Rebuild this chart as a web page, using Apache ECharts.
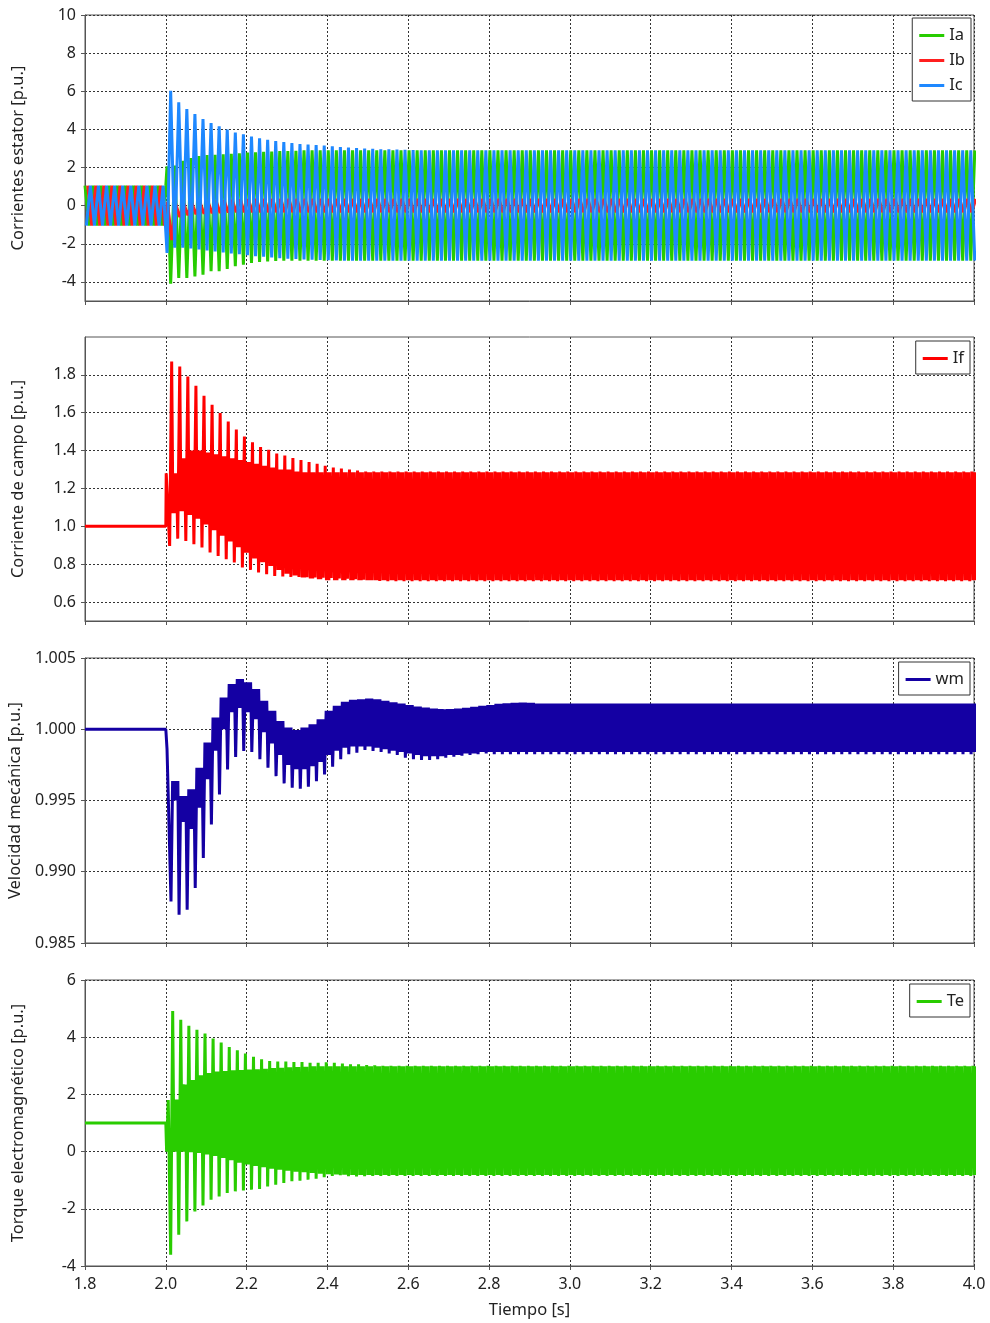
<!DOCTYPE html>
<html><head><meta charset="utf-8">
<script src="https://cdn.jsdelivr.net/npm/echarts@6/dist/echarts.min.js"></script>
<style>html,body{margin:0;padding:0;background:#fff}#c{width:990px;height:1323px}</style>
</head><body><div id="c"></div>
<script>
// ---------------- data ----------------
const xTicks = [1.8, 2.0, 2.2, 2.4, 2.6, 2.8, 3.0, 3.2, 3.4, 3.6, 3.8, 4.0];
const statorTicks = [-4, -2, 0, 2, 4, 6, 8, 10];
const fieldTicks = [0.6, 0.8, 1.0, 1.2, 1.4, 1.6, 1.8];
const speedTicks = [0.985, 0.990, 0.995, 1.000, 1.005];
const torqueTicks = [-4, -2, 0, 2, 4, 6];

const tStart = 1.8, tFault = 2.0, tEnd = 4.0;
const period = 0.02;          // 50 Hz oscillation
const postCycles = 100;       // cycles between 2.0 s and 4.0 s

// stator currents, pre-fault amplitude
const preAmp = 1.05;
// post-fault per-cycle peaks (transient), then steady value
const iaMin = [-4.09, -3.79, -3.79, -3.71, -3.62, -3.44, -3.44, -3.32, -3.18, -3.09, -3.01, -2.95, -2.92, -2.9, -2.89, -2.88];
const iaMax = [2.1, 2.35, 2.5, 2.6, 2.65, 2.67, 2.7, 2.72, 2.75, 2.78, 2.8, 2.82, 2.84, 2.86, 2.87, 2.88, 2.9];
const iaSteady = [-2.88, 2.9];
const icMax = [6.03, 5.42, 5.07, 4.81, 4.54, 4.33, 4.16, 3.99, 3.84, 3.74, 3.62, 3.53, 3.46, 3.39, 3.34, 3.29, 3.23, 3.2, 3.18, 3.15, 3.11, 3.08, 3.05, 3.02, 3.0, 2.98, 2.96, 2.95, 2.94, 2.93, 2.92];
const icMin = [-2.2, -2.2, -2.25, -2.3, -2.35, -2.4, -2.45, -2.5, -2.55, -2.6, -2.65, -2.68, -2.72, -2.75, -2.78, -2.8, -2.82, -2.84, -2.85, -2.86, -2.87];
const icSteady = [2.9, -2.88];
const ibLow = [-1.8, -0.6, -0.5, -0.45, -0.42, -0.4, -0.38, -0.36, -0.35];
const ibHigh = [0.1, 0.12, 0.15, 0.18, 0.21, 0.24, 0.27, 0.3, 0.32, 0.34, 0.35];
const ibSteady = [-0.35, 0.35];

// field current: per-cycle down spike, up spike, and the band between spikes
const ifPre = 1.0;
const ifHi = [1.87, 1.844, 1.791, 1.742, 1.689, 1.642, 1.598, 1.554, 1.511, 1.475, 1.444, 1.419, 1.405, 1.384, 1.374, 1.361, 1.35, 1.34, 1.33, 1.32, 1.31, 1.305, 1.3, 1.295, 1.29];
const ifLo = [0.896, 0.935, 0.923, 0.905, 0.888, 0.862, 0.844, 0.826, 0.809, 0.783, 0.77, 0.756, 0.747, 0.738, 0.735, 0.733, 0.732, 0.731, 0.73, 0.729, 0.727, 0.725, 0.723, 0.721, 0.718, 0.715, 0.712];
const ifMidHi = [1.28, 1.36, 1.4, 1.4, 1.39, 1.38, 1.37, 1.36, 1.35, 1.34, 1.33, 1.32, 1.31, 1.3, 1.3, 1.29];
const ifMidLo = [1.07, 1.08, 1.06, 1.04, 1.01, 0.98, 0.95, 0.92, 0.89, 0.86, 0.83, 0.81, 0.79, 0.77, 0.75, 0.74, 0.73, 0.725, 0.72];
const ifSteady = [0.71, 1.29, 0.715, 1.285];

// mechanical speed
const wmPre = 1.0;
const wmTrough = [0.98791, 0.98698, 0.98733, 0.98886, 0.99097, 0.99331, 0.99542, 0.99718, 0.99805, 0.99847, 0.9984, 0.99789, 0.9973, 0.99671, 0.9962, 0.99589, 0.99582, 0.99596, 0.99636, 0.99683, 0.99737, 0.99789, 0.99824, 0.99836, 0.99855, 0.99847, 0.9984, 0.9983, 0.9982, 0.998, 0.9979, 0.99785, 0.99784, 0.9979, 0.998, 0.99808, 0.99815, 0.9982, 0.99825, 0.9983];
const wmPeak = [0.99636, 0.99531, 0.99578, 0.9973, 0.99906, 1.00082, 1.00223, 1.00317, 1.00352, 1.00329, 1.00282, 1.00199, 1.00129, 1.00058, 1.00012, 0.99995, 1.00012, 1.00035, 1.0007, 1.00129, 1.00164, 1.00192, 1.00206, 1.00211, 1.00216, 1.0021, 1.002, 1.0019, 1.0018, 1.0017, 1.0016, 1.00153, 1.00145, 1.00141, 1.00141, 1.00145, 1.0015, 1.00158, 1.00164, 1.0017, 1.00178, 1.00183, 1.00186, 1.00188, 1.00185];
const wmMidLo = [0.995, 0.9935, 0.993, 0.9945, 0.9965, 0.9985, 1.0, 1.0012, 1.0015, 1.0012, 1.0007, 0.9998, 0.999, 0.9982, 0.9975, 0.9972, 0.9972, 0.9974, 0.9977, 0.9982, 0.9985, 0.9987, 0.9988, 0.9988, 0.9988, 0.9987, 0.9986, 0.9985, 0.9984, 0.9983, 0.9982, 0.9981, 0.9981, 0.9981, 0.9982, 0.9982, 0.9983, 0.9983, 0.9984];
const wmSteady = [0.99825, 1.0018, 0.9984];

// electromagnetic torque
const tePre = 1.0;
const teHi = [4.92, 4.61, 4.4, 4.26, 4.13, 3.95, 3.81, 3.66, 3.54, 3.43, 3.32, 3.23, 3.17, 3.15, 3.15, 3.13, 3.13, 3.11, 3.11, 3.12, 3.11, 3.08, 3.05, 3.05, 3.03, 3.02];
const teLo = [-3.61, -2.91, -2.44, -2.09, -1.88, -1.68, -1.57, -1.45, -1.39, -1.36, -1.33, -1.31, -1.22, -1.16, -1.1, -1.04, -1.02, -0.98, -0.95, -0.9, -0.85, -0.83, -0.86, -0.87, -0.86];
const teMidHi = [1.82, 2.35, 2.5, 2.67, 2.75, 2.8, 2.82, 2.84, 2.85, 2.87, 2.88, 2.9, 2.92, 2.93, 2.95, 2.96, 2.97];
const teMidLo = [0.0, 0.0, -0.02, -0.05, -0.1, -0.15, -0.22, -0.3, -0.39, -0.45, -0.5, -0.55, -0.6, -0.63, -0.67, -0.7, -0.72, -0.75, -0.77, -0.79, -0.8, -0.81, -0.82];
const teSteady = [-0.85, 3.0, -0.82, 2.98];

// ---------------- build series from the arrays ----------------
const at = (arr, k, s) => (k < arr.length ? arr[k] : s);
const r = v => Math.round(v * 100000) / 100000;

function preThreePhase(offset) {
  const d = [];
  for (let j = -2; j < 24; j++) {
    const t = tStart + offset + 0.01 * j;
    if (t < tStart || t > tFault) continue;
    d.push([r(t), j % 2 === 0 ? preAmp : -preAmp]);
  }
  return d;
}
function post2(t0, lowArr, highArr, sLow, sHigh, lowFirst) {
  const d = [];
  for (let k = 0; k < postCycles; k++) {
    const tk = t0 + period * k;
    const a = at(lowArr, k, sLow), b = at(highArr, k, sHigh);
    if (lowFirst) { d.push([r(tk), a]); d.push([r(tk + 0.01), b]); }
    else { d.push([r(tk), b]); d.push([r(tk + 0.01), a]); }
  }
  return d;
}
// spike pair (down, up) followed by the in-between band swinging twice
function post6(t0, lo, hi, mlo, mhi, st) {
  const d = [];
  for (let k = 0; k < postCycles; k++) {
    const tk = t0 + period * k;
    const ml = at(mlo, k, st[2]), mh = at(mhi, k, st[3]);
    d.push([r(tk - 0.005), at(lo, k, st[0])]);
    d.push([r(tk), at(hi, k, st[1])]);
    d.push([r(tk + 0.003), ml]);
    d.push([r(tk + 0.006), mh]);
    d.push([r(tk + 0.009), ml]);
    d.push([r(tk + 0.012), mh]);
  }
  return d;
}
function postSpeed(t0) {
  const d = [];
  for (let k = 0; k < postCycles; k++) {
    const tk = t0 + period * k;
    const pk = at(wmPeak, k, wmSteady[1]);
    const ml = at(wmMidLo, k, wmSteady[2]);
    d.push([r(tk), at(wmTrough, k, wmSteady[0])]);
    d.push([r(tk + 0.004), pk]);
    d.push([r(tk + 0.0075), ml]);
    d.push([r(tk + 0.011), pk]);
    d.push([r(tk + 0.0145), ml]);
    d.push([r(tk + 0.017), pk]);
  }
  return d;
}

const iaData = preThreePhase(0.0).concat([[2.003, 2.06]], post2(2.012, iaMin, iaMax, iaSteady[0], iaSteady[1], true));
const ibData = preThreePhase(0.00667).concat([[2.004, 0.2]], post2(2.0145, ibLow, ibHigh, ibSteady[0], ibSteady[1], true));
const icData = preThreePhase(0.01333).concat([[2.003, -2.48]], post2(2.012, icMin, icMax, icSteady[1], icSteady[0], false));
const ifData = [[tStart, ifPre], [tFault, ifPre], [2.001, 1.28]].concat(post6(2.0145, ifLo, ifHi, ifMidLo, ifMidHi, ifSteady));
const wmData = [[tStart, wmPre], [tFault, wmPre], [2.003, 0.9986]].concat(postSpeed(2.0128));
const teData = [[tStart, tePre], [tFault, tePre], [2.002, 0.0], [2.006, 1.8]].concat(post6(2.017, teLo, teHi, teMidLo, teMidHi, teSteady));

// ---------------- chart ----------------
const FONT = 'Noto Sans';
const txt = '#222';
const gridsPos = [{top: 15, height: 286}, {top: 337, height: 284}, {top: 658, height: 285}, {top: 980, height: 286}];
const dotted = {type: [2, 2], color: '#333', width: 1};

const chart = echarts.init(document.getElementById('c'), null, {renderer: 'canvas'});

function yAxisBase(i, name) {
  return {
    type: 'value', gridIndex: i, name: name, nameLocation: 'middle', nameGap: 58,
    nameTextStyle: {fontSize: 16.5, color: txt, fontFamily: FONT},
    axisLine: {show: true, lineStyle: {color: '#555'}},
    axisTick: {show: true, length: 4, lineStyle: {color: '#555'}},
    axisLabel: {fontSize: 16, color: txt, fontFamily: FONT, margin: 9},
    splitLine: {show: true, lineStyle: dotted}
  };
}
const y0 = yAxisBase(0, 'Corrientes estator [p.u.]');
Object.assign(y0, {min: -5, max: 10});
y0.axisLabel.customValues = statorTicks; y0.axisTick.customValues = statorTicks;
const y1 = yAxisBase(1, 'Corriente de campo [p.u.]');
Object.assign(y1, {min: 0.5, max: 2.0});
y1.axisLabel.customValues = fieldTicks; y1.axisTick.customValues = fieldTicks;
y1.axisLabel.formatter = v => v.toFixed(1);
const y2 = yAxisBase(2, 'Velocidad mecánica [p.u.]');
Object.assign(y2, {min: speedTicks[0], max: speedTicks[speedTicks.length - 1], interval: 0.005});
y2.axisLabel.formatter = v => v.toFixed(3);
const y3 = yAxisBase(3, 'Torque electromagnético [p.u.]');
Object.assign(y3, {min: torqueTicks[0], max: torqueTicks[torqueTicks.length - 1], interval: 2});

const legendBase = {
  orient: 'vertical', right: 20, backgroundColor: '#fff', borderColor: '#333', borderWidth: 1,
  padding: [9, 6, 7, 7], itemWidth: 25, itemHeight: 3, itemGap: 8, icon: 'rect', selectedMode: false,
  textStyle: {fontSize: 16.5, color: txt, fontFamily: FONT}
};

function line(name, data, color, xi, w) {
  return {name, type: 'line', data, xAxisIndex: xi, yAxisIndex: xi, symbol: 'none', showSymbol: false,
    color, lineStyle: {width: w || 3, color}, animation: false, sampling: null, clip: true, silent: true};
}

chart.setOption({
  animation: false,
  backgroundColor: '#fff',
  textStyle: {fontFamily: FONT},
  grid: gridsPos.map(g => ({left: 85, width: 889, top: g.top, height: g.height, show: true,
    borderColor: '#555', borderWidth: 1, containLabel: false, outerBoundsMode: 'none'})),
  xAxis: [0, 1, 2, 3].map(i => ({
    type: 'value', gridIndex: i, min: xTicks[0], max: xTicks[xTicks.length - 1], interval: 0.2,
    axisLine: {show: true, onZero: false, lineStyle: {color: '#555'}},
    axisTick: {show: true, length: 4, lineStyle: {color: '#555'}},
    axisLabel: {show: i === 3, fontSize: 16, color: txt, fontFamily: FONT, margin: 10, formatter: v => v.toFixed(1)},
    splitLine: {show: true, lineStyle: dotted},
    name: i === 3 ? 'Tiempo [s]' : '', nameLocation: 'middle', nameGap: 36,
    nameTextStyle: {fontSize: 16.5, color: txt, fontFamily: FONT}
  })),
  yAxis: [y0, y1, y2, y3],
  legend: [
    Object.assign({}, legendBase, {top: 18, right: 19, data: ['Ia', 'Ib', 'Ic']}),
    Object.assign({}, legendBase, {top: 341, data: ['If']}),
    Object.assign({}, legendBase, {top: 662, data: ['wm']}),
    Object.assign({}, legendBase, {top: 984, data: ['Te']})
  ],
  series: [
    line('Ia', iaData, '#27cc00', 0),
    line('Ib', ibData, '#ff1f1f', 0),
    line('Ic', icData, '#1e88ff', 0),
    line('If', ifData, '#ff0000', 1),
    line('wm', wmData, '#1400a3', 2),
    line('Te', teData, '#29cc00', 3)
  ]
});
</script></body></html>
